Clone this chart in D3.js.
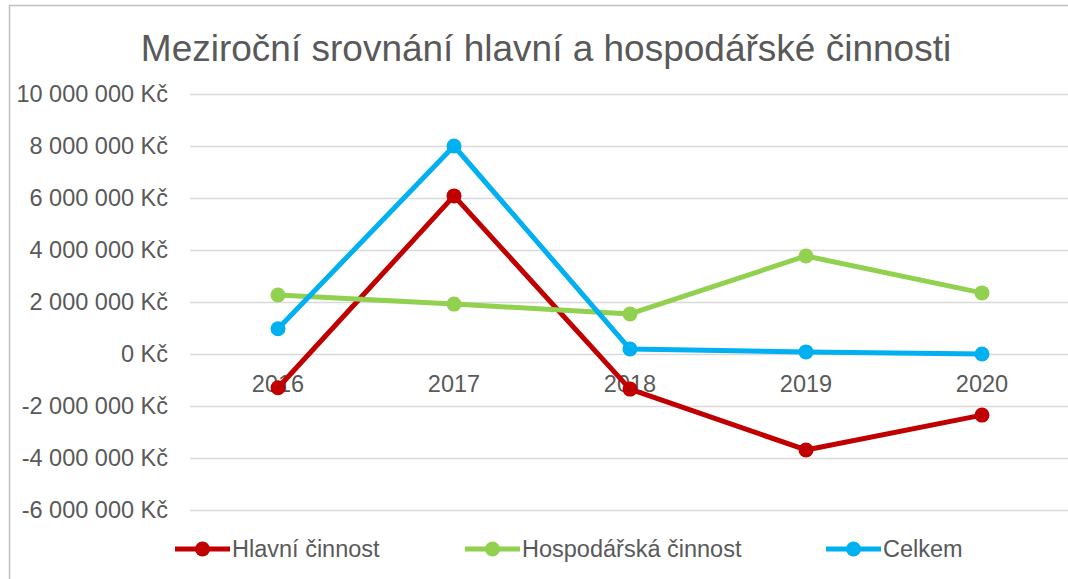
<!DOCTYPE html>
<html>
<head>
<meta charset="utf-8">
<script src="https://cdn.jsdelivr.net/npm/d3@7"></script>
<style>
  body { margin: 0; background: #fff; }
  text { font-family: "Liberation Sans", Arial, sans-serif; fill: #595959; }
</style>
</head>
<body>
<div id="chart"></div>
<script>
const years = ['2016', '2017', '2018', '2019', '2020'];
const hlavni = [-1300000, 6080000, -1350000, -3690000, -2350000];
const hospodarska = [2270000, 1920000, 1540000, 3770000, 2350000];
const celkem = [970000, 8000000, 190000, 80000, 0];
const yTicks = [-6000000, -4000000, -2000000, 0, 2000000, 4000000, 6000000, 8000000, 10000000];

const seriesNames = ['Hlavní činnost', 'Hospodářská činnost', 'Celkem'];
const seriesColors = ['#c00000', '#92d050', '#00b0f0'];
const seriesValues = [hlavni, hospodarska, celkem];

const W = 1068, H = 579;
const svg = d3.select('#chart').append('svg')
    .attr('width', W)
    .attr('height', H);

// chart frame (cropped at right and bottom)
svg.append('path')
    .attr('d', `M9.5,${H} V5.5 H${W}`)
    .attr('fill', 'none')
    .attr('stroke', '#bfbfbf')
    .attr('stroke-width', 1.5);

// title
svg.append('text')
    .attr('x', 546)
    .attr('y', 61)
    .attr('text-anchor', 'middle')
    .style('font-size', '37px')
    .text('Meziroční srovnání hlavní a hospodářské činnosti');

const x = d3.scaleBand()
    .domain(years)
    .range([190, 1070])
    .padding(0);

const y = d3.scaleLinear()
    .domain([-6000000, 10000000])
    .range([510, 94]);

const fmt = v => d3.format(',')(v).replace(/,/g, ' ').replace('−', '-') + ' Kč';

// gridlines + y labels
const yAxis = svg.append('g')
    .attr('transform', 'translate(190,0)')
    .call(d3.axisLeft(y).tickValues(yTicks).tickSize(-(W - 190)).tickPadding(22).tickFormat(fmt));
yAxis.select('.domain').remove();
yAxis.selectAll('.tick line').attr('stroke', '#d9d9d9').attr('stroke-width', 1.5);
yAxis.selectAll('.tick text')
    .attr('fill', '#595959')
    .style('font-size', '23.5px')
    .style('font-family', '"Liberation Sans", Arial, sans-serif');

// category labels sit at the zero line
const xAxis = svg.append('g')
    .attr('transform', `translate(0,${y(0)})`)
    .call(d3.axisBottom(x).tickSize(0).tickPadding(21));
xAxis.select('.domain').remove();
xAxis.selectAll('.tick text')
    .attr('fill', '#595959')
    .style('font-size', '23.5px')
    .style('font-family', '"Liberation Sans", Arial, sans-serif');

const cx = d => x(d) + x.bandwidth() / 2;

const line = d3.line()
    .x((d, i) => cx(years[i]))
    .y(d => y(d));

seriesValues.forEach((vals, s) => {
    const g = svg.append('g');
    g.append('path')
        .datum(vals)
        .attr('d', line)
        .attr('fill', 'none')
        .attr('stroke', seriesColors[s])
        .attr('stroke-width', 5)
        .attr('stroke-linejoin', 'round');
    g.selectAll('circle')
        .data(vals)
        .enter()
        .append('circle')
        .attr('cx', (d, i) => cx(years[i]))
        .attr('cy', d => y(d))
        .attr('r', 7.5)
        .attr('fill', seriesColors[s]);
});

// legend
const legendX = [175, 465, 826];
const legend = svg.append('g').attr('transform', 'translate(0,549)');
seriesNames.forEach((name, s) => {
    const g = legend.append('g').attr('transform', `translate(${legendX[s]},0)`);
    g.append('line')
        .attr('x1', 0).attr('x2', 55)
        .attr('stroke', seriesColors[s])
        .attr('stroke-width', 5);
    g.append('circle')
        .attr('cx', 27.5)
        .attr('r', 7.5)
        .attr('fill', seriesColors[s]);
    g.append('text')
        .attr('x', 57)
        .attr('dy', '0.35em')
        .style('font-size', '23.5px')
        .text(name);
});
</script>
</body>
</html>
